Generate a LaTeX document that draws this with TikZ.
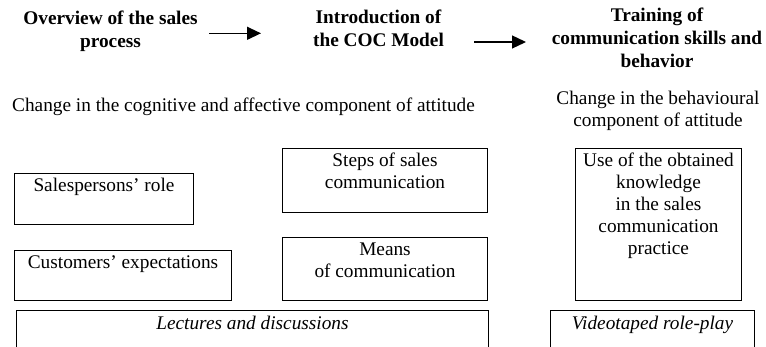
\documentclass[tikz,border=0pt]{standalone}
\usepackage{fontspec}
\setmainfont{Liberation Serif}
\usetikzlibrary{arrows.meta,positioning,calc}
\begin{document}
\begin{tikzpicture}[x=1pt,y=-1pt,
  every node/.style={font=\fontsize{19.3}{22}\selectfont, inner sep=0pt},
  head/.style={font=\fontsize{19.3}{23}\selectfont\bfseries, align=center, anchor=base},
  plain/.style={align=center, anchor=base},
  boxed/.style={draw, line width=1pt, anchor=north west, minimum width=#1},
  boxtext/.style={align=center, anchor=base},
  arr/.style={line width=1.3pt, -{Triangle[length=14pt,width=13pt]}}]
\clip (0,0) rectangle (766,347);
\useasboundingbox (0,0) rectangle (766,347);
% headings (anchor = baseline of the last line)
\node[head] (overview) at (110.5,48) {Overview of the sales\\process};
\node[head] (intro) at (378.5,47) {Introduction of\\the COC Model};
\node[head] (training) at (657,68) {Training of\\communication skills and\\behavior};
\coordinate (a1s) at (209,33.3);
\coordinate (a1e) at (261,33.3);
\coordinate (a2s) at (474,42);
\coordinate (a2e) at (526,42);
\draw[arr] (a1s) -- (a1e);
\draw[arr] (a2s) -- (a2e);
% sub headings
\node[plain, anchor=base west] (cog) at (12,112) {Change in the cognitive and affective component of attitude};
\node[plain] (beh) at (658,127) {Change in the behavioural\\component of attitude};
% boxes
\node[boxed=179pt, minimum height=51pt] (sr) at (14,173) {};
\node[boxtext] (srt) at ($(sr.north)+(0,19)$) {Salespersons' role};
\node[boxed=217pt, minimum height=50pt] (ce) at (14,250) {};
\node[boxtext] (cet) at ($(ce.north)+(0,18.5)$) {Customers' expectations};
\node[boxed=205pt, minimum height=64pt] (ss) at (282,148) {};
\node[boxtext] (sst) at ($(ss.north)+(0,41)$) {Steps of sales\\communication};
\node[boxed=205pt, minimum height=63pt] (mc) at (282,237) {};
\node[boxtext] (mct) at ($(mc.north)+(0,40.5)$) {Means\\of communication};
\node[boxed=166pt, minimum height=152pt] (uk) at (575,148) {};
\node[boxtext] (ukt) at ($(uk.north)+(0,107)$) {Use of the obtained\\knowledge\\in the sales\\communication\\practice};
\node[boxed=472pt, minimum height=60pt] (ld) at (16,310) {};
\node[boxtext, font=\fontsize{19.3}{22}\selectfont\itshape] (ldt) at ($(ld.north)+(0,20)$) {Lectures and discussions};
\node[boxed=204pt, minimum height=60pt] (vr) at (550,310) {};
\node[boxtext, font=\fontsize{19.3}{22}\selectfont\itshape] (vrt) at ($(vr.north)+(0,20)$) {Videotaped role-play};
\end{tikzpicture}
\end{document}
